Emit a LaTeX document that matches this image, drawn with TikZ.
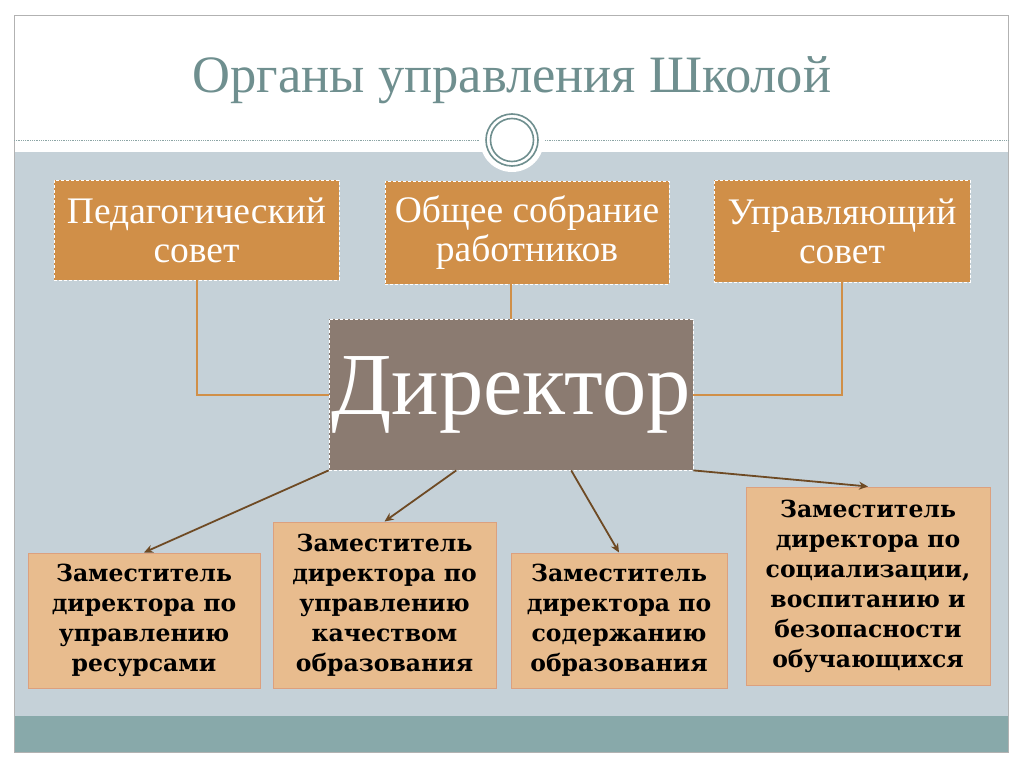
\documentclass[tikz,border=0pt]{standalone}
\usepackage{fontspec}
\setmainfont{Liberation Serif}
\newfontfamily\zamfont{DejaVu Serif}
\usetikzlibrary{positioning,arrows.meta,calc}

\definecolor{slidegray}{HTML}{C5D1D8}
\definecolor{bandteal}{HTML}{88A9AA}
\definecolor{titleteal}{HTML}{6F8F8F}
\definecolor{orgbox}{HTML}{D08F48}
\definecolor{dirbox}{HTML}{8B7B71}
\definecolor{zambox}{HTML}{E8BC8E}
\definecolor{zamline}{HTML}{DCA07E}
\definecolor{arrbrown}{HTML}{6E4A24}

\begin{document}
\begin{tikzpicture}[
  x=1pt,y=-1pt,
  >={Stealth[length=9pt,width=8pt]},
  obox/.style={fill=orgbox,draw=white,densely dashed,line width=0.8pt,
               align=center,text=white,inner sep=2pt,
               font=\fontsize{37.5}{39}\selectfont},
  zbox/.style={fill=zambox,draw=zamline,line width=1pt,align=center,
               text=black,inner sep=2pt,
               font=\zamfont\bfseries\fontsize{23.5}{30}\selectfont},
  link/.style={draw=orgbox,line width=2pt},
  arr/.style={->,draw=arrbrown,fill=arrbrown,line width=1.8pt}]

% --- slide background ---
\useasboundingbox (0,0) rectangle (1024,767);
\fill[white] (0,0) rectangle (1024,767);
\fill[slidegray] (14,152) rectangle (1008,716);
\fill[bandteal] (14,716) rectangle (1008,752);
\draw[gray!60,line width=0.8pt] (14,15) rectangle (1008,752);
\draw[titleteal!80,densely dotted,line width=0.8pt] (14,140) -- (1008,140);
\fill[white] (512,140) circle (32);
\draw[titleteal,line width=1.6pt] (512,140) circle (26);
\draw[titleteal,line width=1.6pt] (512,140) circle (21.5);

\node[text=titleteal,font=\fontsize{52.5}{56}\selectfont] (title) at (512,80)
  {Органы управления Школой};

% --- councils ---
\node[obox,minimum width=285,minimum height=100] (ped) at (196.5,230)
  {Педагогический\\совет};
\node[obox,minimum width=284,minimum height=103] (obs) at (527,232.5)
  {Общее собрание\\работников};
\node[obox,minimum width=256,minimum height=102] (upr) at (842,231)
  {Управляющий\\совет};

% --- director ---
\node[fill=dirbox,draw=white,densely dashed,line width=0.8pt,text=white,
      minimum width=364,minimum height=151,inner sep=0pt,
      font=\fontsize{88.5}{90}\selectfont] (dir) at (511,394.5) {Директор};

% --- deputies ---
\node[zbox,minimum width=232,minimum height=135] (z1) at (144,620.5)
  {Заместитель\\директора по\\управлению\\ресурсами};
\node[zbox,minimum width=223,minimum height=166] (z2) at (384.5,605)
  {Заместитель\\директора по\\управлению\\качеством\\образования};
\node[zbox,minimum width=216,minimum height=135] (z3) at (619,620.5)
  {Заместитель\\директора по\\содержанию\\образования};
\node[zbox,minimum width=244,minimum height=198] (z4) at (868,586)
  {Заместитель\\директора по\\социализации,\\воспитанию и\\безопасности\\обучающихся};

% --- connectors ---
\draw[link] (ped.south) |- (dir.west);
\draw[link] (dir.north) -- (dir.north |- obs.south);
\draw[link] (upr.south) |- (dir.east);

\draw[arr] (dir.south west) -- (z1.north);
\draw[arr] ($(dir.south west)!0.35!(dir.south east)$) -- (z2.north);
\draw[arr] ($(dir.south west)!0.665!(dir.south east)$) -- (z3.north);
\draw[arr] (dir.south east) -- (z4.north);

\end{tikzpicture}
\end{document}
